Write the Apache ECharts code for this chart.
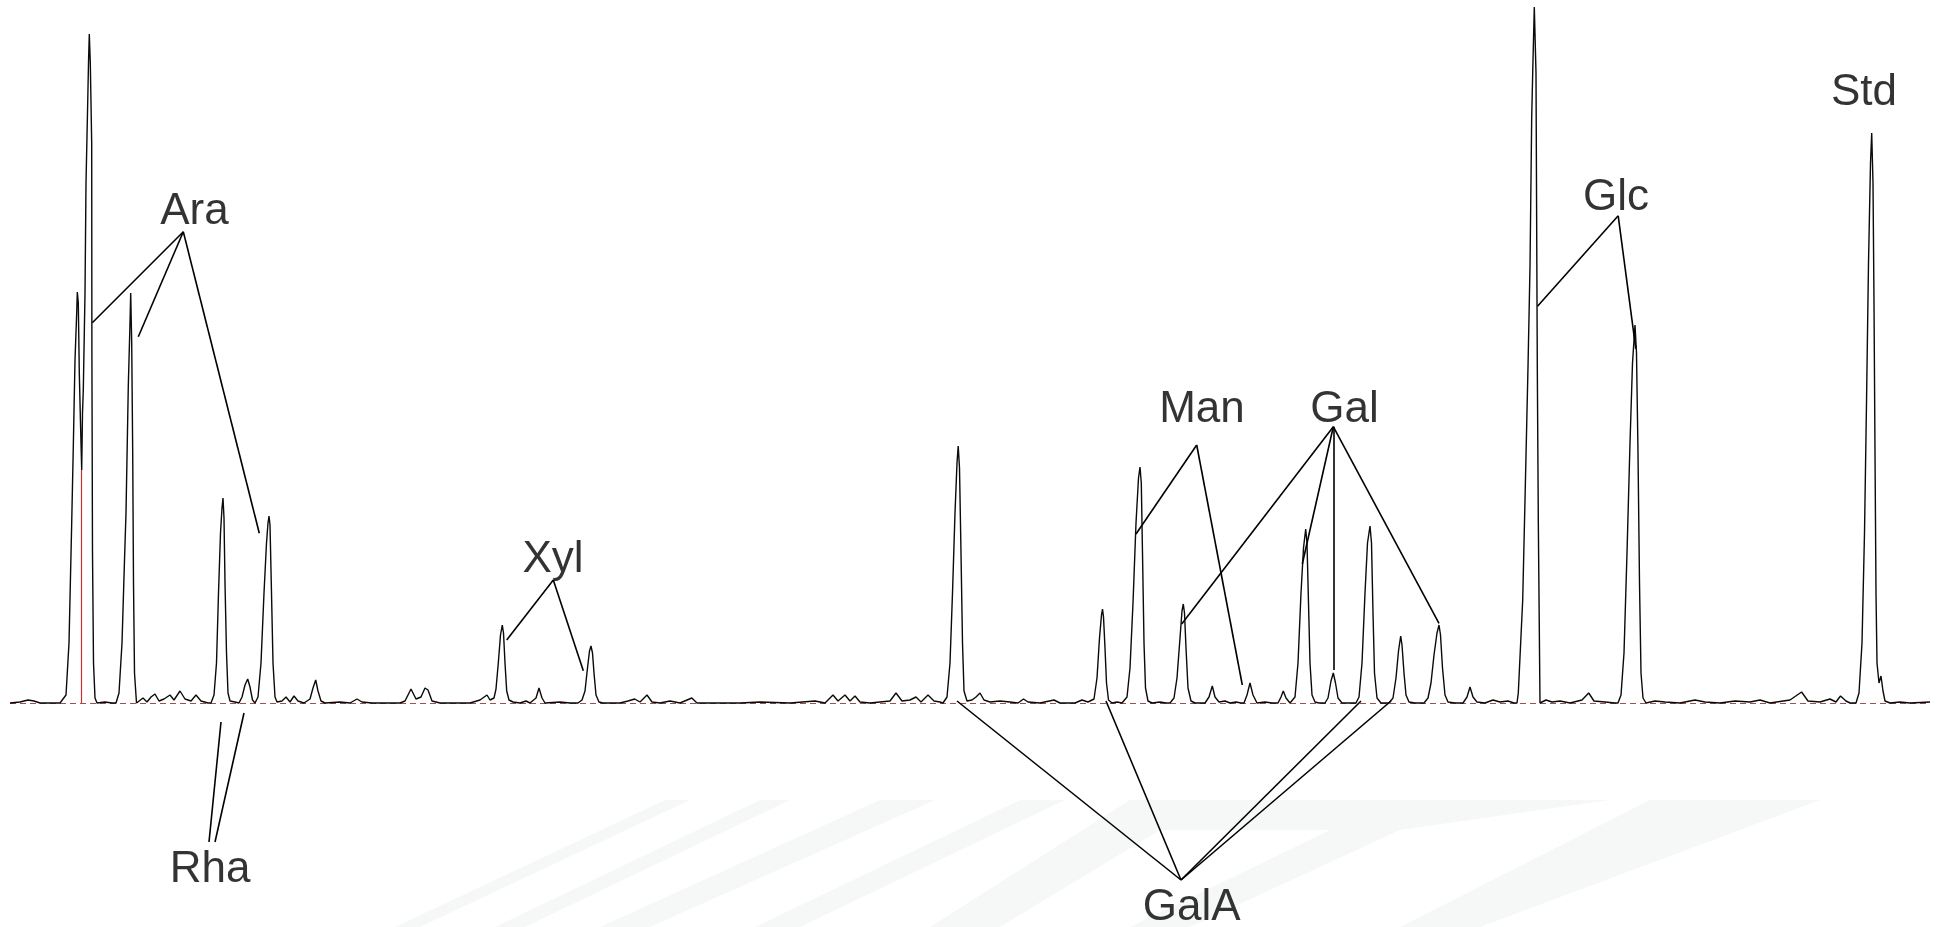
<!DOCTYPE html>
<html>
<head>
<meta charset="utf-8">
<title>Monosaccharide composition – GC chromatogram</title>
<script src="https://cdn.jsdelivr.net/npm/echarts@6/dist/echarts.min.js"></script>
<style>
  html, body { margin: 0; padding: 0; background: #ffffff; }
  #chart { width: 1942px; height: 927px; }
</style>
</head>
<body>
<div id="chart"></div>
<script>
// Detector trace: [retention position, signal] pairs, in run order.
const traceEarly = [
  [10,0],[20,1],[28,3],[34,2],[40,0],[55,0],[60,0],[66,8],[69,60],[71.7,180],[73.3,256],[75,343],
  [76.7,390],[77.3,411],[78.3,400],[79.3,330],[80.5,280],[81.7,233],[82.5,290],[83.3,313],[85,410],
  [86,520],[87.7,600],[88.5,640],[89.3,669],[90.3,640],[91.7,560],[91.9,350],[92.5,150],[93.5,40],
  [95,5],[97,0],[105,1],[112,0],
  [116,0],[119,10],[122,60],[124.5,143],[126,190],[128.3,317],[130,380],[130.7,410],[131.7,360],
  [132.7,250],[133.5,120],[134.5,30],[136.5,0],
  [143,5],[147,1],[151,6],[155,9],[159,2],[164,4],[170,8],[174,3],[180,12],[185,4],[191,2],[196,8],
  [201,2],[208,0],
  [211,0],[214,8],[216.5,40],[218.5,110],[220.5,170],[222,195],[223,205],[224,185],[225,120],
  [226.5,50],[228,10],[230,2],[235,1],
  [239,0],[242,6],[245,18],[247.7,24],[250,16],[252.5,3],[255,0],
  [258,6],[261,40],[264,110],[266.5,160],[268,180],[269,187],[270,178],[271.5,110],[273,40],[275,6],
  [277,1],[282,2],[286,6],[290,1],[294,7],[298,2],[304,0],[310,4],[313,15],[315.7,23],[318,12],
  [321,2],[325,0],[340,1],[350,0],[357,4],[362,1],[372,0]
];
const traceMiddle = [
  [400,0],[405,2],[411,14],[416,4],[421,6],[425,15],[428,13],[432,2],[440,0],[470,0],[480,3],[487,8],
  [490,3],[494,5],[496,14],[498.3,40],[500.5,68],[502.3,78],[503.5,70],[505,40],[506.7,12],[509,3],
  [513,1],[520,0],[526,2],[530,0],[536,5],[539,15],[542,5],[545,0],[560,1],[570,0],
  [578,0],[582,3],[585,12],[587.5,35],[589.5,52],[591,57],[592.5,50],[594,30],[596,8],[599,1],[603,0],
  [620,0],[628,2],[634.7,4],[640,1],[647,8],[652,1],[660,0],[670,2],[680,0],[691.8,5],[697,0],
  [740,0],[760,1],[790,0],[815,2],[825,0],[833,8],[838,2],[845,8],[850,2],[855,7],[860,1],[870,0],
  [890,2],[896,10],[902,2],[910,3],[916,6],[921,1],[928,8],[934,2],[940,1],
  [943,0],[947,6],[950,40],[952.5,110],[955,190],[957,240],[958.2,257],[959.5,235],[961,150],
  [962.5,60],[964,12],[967,2],[972,3],[976,6],[980,10],[984,3],[990,1]
];
const traceLate = [
  [1000,2],[1010,1],[1018,0],[1023.5,4],[1028,1],[1040,0],[1054,3],[1060,0],[1075,0],[1082,3],[1088,1],
  [1090,0],[1094,4],[1097,25],[1099.5,65],[1101.5,88],[1102.5,94],[1103.5,86],[1105,55],[1106.5,20],
  [1108.5,3],[1112,0],[1117,1],[1122,0],
  [1127,6],[1130,35],[1133,100],[1136,180],[1138.5,225],[1140,236],[1141.3,220],[1142.5,150],
  [1144,60],[1145.5,15],[1148,2],[1152,0],[1160,1],[1166,0],
  [1170,0],[1174,5],[1177,25],[1180,65],[1182,92],[1183.3,99],[1184.5,90],[1186,55],[1188,15],
  [1191,2],[1195,0],
  [1205,0],[1209,6],[1212.3,17],[1215,6],[1219,1],[1225,2],[1230,0],[1236,1],[1241,0],[1244,0],
  [1247,8],[1250,20],[1253,8],[1257,0],[1265,1],[1272,0],[1278,0],[1281,6],[1283.3,12],[1286,5],[1290,0],
  [1295,6],[1298,40],[1301,110],[1303.5,155],[1305.7,174],[1307,160],[1308.5,100],[1310,40],
  [1312,8],[1315,1],[1319,0],
  [1325,0],[1328,5],[1331,22],[1333.3,30],[1335.5,20],[1338,5],[1342,0],
  [1356,0],[1359,6],[1362,40],[1365,110],[1367.5,160],[1370,177],[1371.5,160],[1373,90],[1374.5,30],
  [1377,5],[1381,0],
  [1389,0],[1393,5],[1396,25],[1398.5,52],[1400.7,67],[1402,58],[1404,30],[1406,8],[1409,1],[1415,0],
  [1424,0],[1428,5],[1431,20],[1434,48],[1437,70],[1439,78],[1440.5,68],[1442.5,35],[1445,8],
  [1448,1],[1455,0],
  [1463,0],[1467,6],[1470,16],[1473,6],[1477,1],[1485,0],[1493,3],[1500,1],[1508,2],[1514,0],
  [1517,0],[1518.3,10],[1522.7,103],[1525,203],[1528,336],[1530,436],[1531.7,586],[1532.7,630],
  [1534.3,696],[1536,630],[1537.3,336],[1538.3,183],[1540,0],
  [1546,3],[1552,1],[1560,2],[1570,0],[1582,3],[1588.7,10],[1594,2],[1605,1],[1615,0],
  [1618,0],[1621,8],[1624,50],[1627,150],[1630,260],[1632.5,340],[1635,378],[1636.5,350],[1638,250],
  [1639.5,120],[1641,30],[1643,5],[1646,0],
  [1655,2],[1665,1],[1680,0],[1695,3],[1705,1],[1720,0],[1735,2],[1750,1],[1760,3],[1770,0],
  [1790,3],[1801.6,11],[1808,2],[1820,1],[1830,4],[1836,1],[1840.5,7],[1846,2],[1850,0],
  [1856,0],[1859,10],[1862,60],[1864.5,170],[1866.5,300],[1868.5,440],[1870.5,540],[1871.7,570],
  [1873,520],[1874,400],[1875,250],[1876,110],[1877,40],[1879,20],[1881,27],[1883,12],[1885,2],
  [1890,0],[1900,1],[1910,0],[1930,1]
];

// Sugar names and where each name sits on the chart.
const sugarNames = ['Ara', 'Rha', 'Xyl', 'Man', 'Gal', 'GalA', 'Glc', 'Std'];
const namePositions = [
  [194.5, 491.5], [210, -166.5], [553, 143.5], [1202, 293.5],
  [1344.5, 293.5], [1191.7, -204.5], [1616, 505.5], [1864, 610.5]
];

// Leader lines from each name to its peaks: [from, to] pairs.
const leaderLines = [
  // Ara
  [[183.3, 471.3], [92.3, 380.3]], [[183.3, 471.3], [138.3, 366.3]], [[183.3, 471.3], [259.3, 169.7]],
  // Rha
  [[209, -139], [221, -19]], [[215, -139], [244, -10]],
  // Xyl
  [[553.3, 123], [506.7, 63]], [[553.3, 123], [583.3, 32.3]],
  // Man
  [[1196.7, 258], [1136, 169]], [[1196.7, 258], [1242.3, 18]],
  // Gal
  [[1333.3, 276.3], [1181.7, 79]], [[1333.3, 276.3], [1302.3, 139]],
  [[1333.3, 276.3], [1333.3, 33]], [[1333.3, 276.3], [1439, 79.7]],
  // GalA
  [[1181, -177], [957, 2]], [[1181, -177], [1106, 2]], [[1181, -177], [1361, 2]], [[1181, -177], [1391, 2]],
  // Glc
  [[1618.2, 487.2], [1537.5, 396.7]], [[1618.2, 487.2], [1635.8, 354.1]]
];

// Integration baseline and the drop line splitting the first doublet.
const baselineSpan = [[10, 0], [1930, 0]];
const dropLine = [[81.7, 0], [81.7, 233]];

const trace = traceEarly.concat(traceMiddle, traceLate);

const chart = echarts.init(document.getElementById('chart'), null, { renderer: 'canvas' });

// Faint diagonal background stripes along the bottom edge.
const stripeColor = '#f6f7f7';
const stripes = [
  [[665, 800], [690, 800], [420, 927], [395, 927]],
  [[760, 800], [790, 800], [525, 927], [495, 927]],
  [[880, 800], [935, 800], [650, 927], [600, 927]],
  [[1020, 800], [1065, 800], [800, 927], [755, 927]],
  [[1130, 800], [1610, 800], [1400, 830], [1190, 927], [1130, 927], [1330, 830], [1160, 830], [1000, 927], [930, 927]],
  [[1650, 800], [1820, 800], [1480, 927], [1400, 927]]
];

chart.setOption({
  animation: false,
  backgroundColor: '#ffffff',
  grid: { left: 0, right: 0, top: 0, bottom: 0 },
  xAxis: { type: 'value', min: 0, max: 1942, show: false },
  yAxis: { type: 'value', min: -224, max: 703, show: false },
  graphic: stripes.map(pts => ({
    type: 'polygon',
    z: -10,
    silent: true,
    shape: { points: pts },
    style: { fill: stripeColor }
  })),
  series: [
    {
      type: 'lines',
      coordinateSystem: 'cartesian2d',
      z: 1,
      silent: true,
      lineStyle: { color: '#8a3434', width: 1, type: [6, 4], opacity: 0.85 },
      data: [{ coords: baselineSpan }]
    },
    {
      type: 'lines',
      coordinateSystem: 'cartesian2d',
      z: 1,
      silent: true,
      lineStyle: { color: '#c83232', width: 1.2, opacity: 1 },
      data: [{ coords: dropLine }]
    },
    {
      name: 'Signal',
      type: 'line',
      z: 3,
      data: trace,
      showSymbol: false,
      symbol: 'none',
      smooth: false,
      lineStyle: { color: '#0a0a0a', width: 1.4 }
    },
    {
      type: 'lines',
      coordinateSystem: 'cartesian2d',
      z: 4,
      silent: true,
      lineStyle: { color: '#000000', width: 1.6, opacity: 1 },
      data: leaderLines.map(c => ({ coords: c }))
    },
    {
      type: 'scatter',
      z: 5,
      symbolSize: 0,
      silent: true,
      data: sugarNames.map((n, i) => ({ name: n, value: namePositions[i] })),
      label: {
        show: true,
        position: 'inside',
        formatter: '{b}',
        fontFamily: 'Liberation Sans, Arial, sans-serif',
        fontSize: 44,
        color: '#000000',
        textBorderWidth: 0,
        align: 'center',
        verticalAlign: 'middle'
      }
    }
  ]
});
</script>
</body>
</html>
